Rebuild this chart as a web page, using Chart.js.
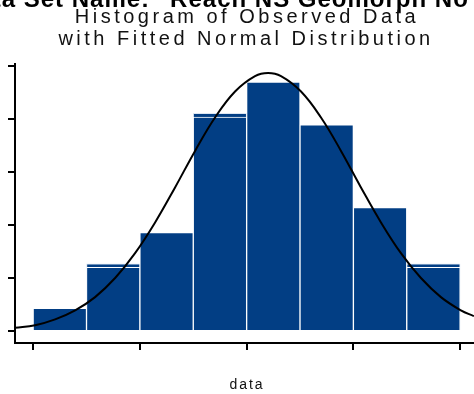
<!DOCTYPE html>
<html>
<head>
<meta charset="utf-8">
<script src="https://cdn.jsdelivr.net/npm/chart.js@4"></script>
<style>
  html, body { margin: 0; padding: 0; background: #fff; }
  canvas { display: block; }
</style>
</head>
<body>
<canvas id="chart" width="474" height="394"></canvas>
<script>
// histogram bins (unit width) and their heights
const binCenters = [0.5, 1.5, 2.5, 3.5, 4.5, 5.5, 6.5, 7.5];
const binHeights = [0.43, 1.2, 1.86, 4.04, 4.7, 3.89, 2.33, 1.2];
// a few bins are drawn twice, the back copy slightly taller
const backHeights = [null, 1.27, null, 4.11, null, null, null, 1.27];

// fitted normal curve, sampled along the x axis
const curveX = [-0.337, 0.037, 0.412, 0.787, 1.161, 1.536, 1.91, 2.285, 2.659, 3.034,
                3.408, 3.783, 4.157, 4.401, 4.644, 5.019, 5.393, 5.768, 6.142, 6.517,
                6.891, 7.266, 7.64, 8.015, 8.258];
const curveY = [0.06, 0.11, 0.22, 0.39, 0.64, 1.0, 1.47, 2.05, 2.71, 3.4,
                4.03, 4.52, 4.81, 4.87, 4.81, 4.52, 4.03, 3.4, 2.71, 2.05,
                1.47, 1.0, 0.64, 0.39, 0.28];

const xTickValues = [0, 2, 4, 6, 8];
const yTickValues = [0, 1, 2, 3, 4, 5];

const headerText = 'Data Set Name: "Reach NS Geomorph No"';
const titleLines = ["Histogram of Observed Data", "with Fitted Normal Distribution"];
const xTitle = "data";

const barBlue = "#023e84";

const textPlugin = {
  id: "texts",
  afterDraw(chart) {
    const c = chart.ctx;
    c.save();
    c.fillStyle = "#000";
    c.textBaseline = "alphabetic";
    // header line, mostly above the top edge
    c.font = 'bold 24px "Liberation Sans", Arial, sans-serif';
    c.letterSpacing = "1px";
    c.textAlign = "left";
    c.fillText(headerText, -40, 7);
    // two-line title
    c.fillStyle = "#111";
    c.font = '20px "Liberation Sans", Arial, sans-serif';
    c.letterSpacing = "3.5px";
    c.textAlign = "center";
    c.fillText(titleLines[0], 247, 23);
    c.fillText(titleLines[1], 246, 45);
    // x axis title
    c.font = '14px "Liberation Sans", Arial, sans-serif';
    c.letterSpacing = "2px";
    c.fillText(xTitle, 247, 389);
    c.restore();
  },
};

const ctx = document.getElementById("chart");

new Chart(ctx, {
  type: "bar",
  data: {
    datasets: [
      {
        type: "line",
        label: "Normal",
        data: curveX.map((x, i) => ({ x: x, y: curveY[i] })),
        borderColor: "#000",
        borderWidth: 2,
        pointRadius: 0,
        tension: 0.4,
        fill: false,
        order: 1,
      },
      {
        label: "Observed",
        data: binCenters.map((x, i) => ({ x: x, y: binHeights[i] })),
        backgroundColor: barBlue,
        borderColor: "#fff",
        borderWidth: 1,
        grouped: false,
        categoryPercentage: 1,
        barPercentage: 1,
        order: 2,
      },
      {
        label: "Observed (back)",
        data: binCenters.map((x, i) => ({ x: x, y: backHeights[i] })),
        backgroundColor: barBlue,
        borderColor: "#dde6f2",
        borderWidth: 1,
        grouped: false,
        categoryPercentage: 1,
        barPercentage: 1,
        order: 3,
      },
    ],
  },
  options: {
    responsive: false,
    animation: false,
    devicePixelRatio: 1,
    layout: {
      padding: { left: 8, top: 64, right: 0, bottom: 44 },
    },
    plugins: {
      legend: { display: false },
      title: { display: false },
      tooltip: { enabled: false },
    },
    scales: {
      x: {
        type: "linear",
        min: -0.34,
        max: 8.26,
        offset: false,
        afterBuildTicks: (scale) => {
          scale.ticks = xTickValues.map((v) => ({ value: v }));
        },
        ticks: { display: false },
        grid: {
          offset: false,
          drawOnChartArea: false,
          tickLength: 7,
          color: "#000",
          lineWidth: 2,
        },
        border: { color: "#000", width: 2 },
      },
      y: {
        type: "linear",
        min: -0.226,
        max: 5.04,
        afterBuildTicks: (scale) => {
          scale.ticks = yTickValues.map((v) => ({ value: v }));
        },
        ticks: { display: false },
        grid: {
          drawOnChartArea: false,
          tickLength: 7,
          color: "#000",
          lineWidth: 2,
        },
        border: { color: "#000", width: 2 },
      },
    },
  },
  plugins: [textPlugin],
});
</script>
</body>
</html>
